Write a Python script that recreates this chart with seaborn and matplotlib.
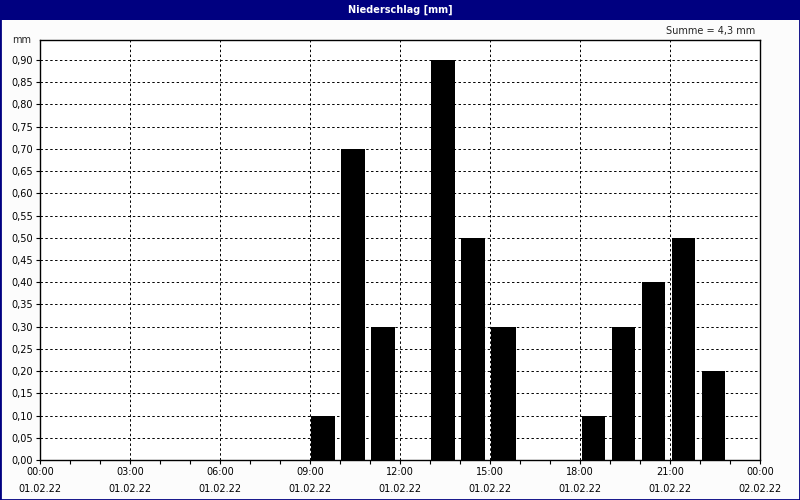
import matplotlib
matplotlib.use("Agg")
import matplotlib.pyplot as plt
import seaborn as sns
import pandas as pd
from matplotlib.patches import Rectangle
from matplotlib.ticker import FuncFormatter, MultipleLocator

# Stundenwerte Niederschlag (Beginn der Stunde)
hours = [9, 10, 11, 12, 13, 14, 15, 16, 17, 18, 19, 20, 21, 22]
values = [0.1, 0.7, 0.3, 0.0, 0.9, 0.5, 0.3, 0.0, 0.0, 0.1, 0.3, 0.4, 0.5, 0.2]
tick_hours = [0, 3, 6, 9, 12, 15, 18, 21, 24]
tick_labels = ["00:00\n01.02.22", "03:00\n01.02.22", "06:00\n01.02.22",
               "09:00\n01.02.22", "12:00\n01.02.22", "15:00\n01.02.22",
               "18:00\n01.02.22", "21:00\n01.02.22", "00:00\n02.02.22"]
title = "Niederschlag [mm]"

df = pd.DataFrame({"pos": [h + 0.45 for h in hours], "mm": values})
summe = sum(values)

sns.set_style("white")
plt.rcParams["font.family"] = ["DejaVu Sans"]
plt.rcParams["font.size"] = 7

fig = plt.figure(figsize=(8, 5), dpi=100)
fig.patch.set_facecolor("#fcfcfc")
ax = fig.add_axes([0.05, 0.08, 0.9, 0.84])
ax.set_facecolor("white")

sns.barplot(data=df, x="pos", y="mm", native_scale=True, width=0.8,
            color="black", saturation=1, ax=ax, edgecolor="black", linewidth=0)

ax.set_xlim(0, 24)
ax.set_ylim(0, 0.945)
ax.set_xticks(tick_hours)
ax.set_xticklabels(tick_labels, linespacing=1.9)
ax.xaxis.set_minor_locator(MultipleLocator(1))
ax.yaxis.set_major_locator(MultipleLocator(0.05))
ax.yaxis.set_major_formatter(FuncFormatter(lambda v, p: f"{v:.2f}".replace(".", ",")))
ax.tick_params(axis="both", which="both", direction="out", length=3, width=0.8,
               colors="black", labelsize=7, bottom=True, left=True)
ax.tick_params(axis="x", which="major", pad=2)
ax.tick_params(axis="y", which="major", pad=2)
ax.set_xlabel("")
ax.set_ylabel("")
ax.grid(True, color="black", linestyle=(0, (2.5, 2.5)), linewidth=0.7)
ax.set_axisbelow(True)
for s in ax.spines.values():
    s.set_color("black")
    s.set_linewidth(1)
    s.set_visible(True)

ax.text(-0.012, 1.0, "mm", transform=ax.transAxes, ha="right", va="center", fontsize=7)
fig.text(0.944, 0.938, f"Summe = {summe:.1f} mm".replace(".", ","),
         ha="right", va="center", fontsize=7)

# Titelleiste
fig.patches.append(Rectangle((0, 0.96), 1, 0.04, transform=fig.transFigure,
                             facecolor="#000080", edgecolor="none", zorder=0))
fig.patches.append(Rectangle((0, 0), 1, 1, transform=fig.transFigure,
                             facecolor="none", edgecolor="#000080", linewidth=2, zorder=5))
fig.text(0.5, 0.98, title, color="white", fontweight="bold",
         ha="center", va="center", fontsize=7)

fig.savefig("out.png", dpi=100, facecolor=fig.get_facecolor())
